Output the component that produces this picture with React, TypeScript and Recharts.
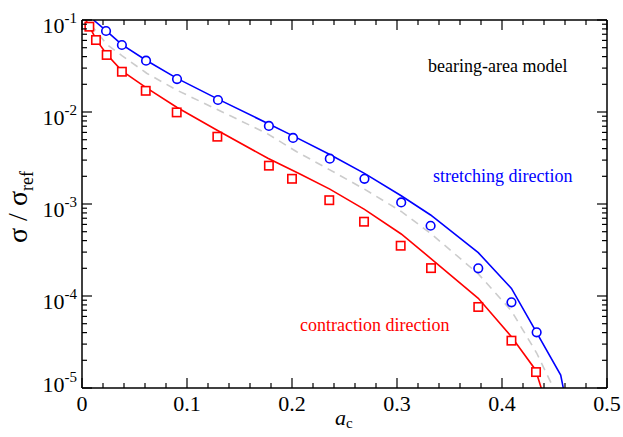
import React from 'react';
import { ComposedChart, Line, Scatter, XAxis, YAxis } from 'recharts';

const SERIF = "'Liberation Serif', 'Times New Roman', Times, 'DejaVu Serif', serif";
const BLUE = '#0000ff';
const RED = '#ff0000';
const GRAY = '#cccccc';

// symbols (simulation data)
const circleX = [0.0229, 0.038, 0.061, 0.0905, 0.1295, 0.178, 0.201, 0.236, 0.269, 0.304, 0.332, 0.3774, 0.409, 0.433];
const circleY = [0.0759, 0.0535, 0.0361, 0.0228, 0.0135, 0.00705, 0.00522, 0.00311, 0.00188, 0.00104, 0.00058, 0.0002, 8.54e-5, 4.03e-5];

const squareX = [0.007, 0.0133, 0.0235, 0.038, 0.0607, 0.0902, 0.1289, 0.178, 0.2, 0.2355, 0.2686, 0.3035, 0.3324, 0.3774, 0.409, 0.4324];
const squareY = [0.0846, 0.0606, 0.0417, 0.0274, 0.017, 0.0099, 0.00539, 0.00261, 0.00188, 0.0011, 0.000642, 0.000352, 0.000201, 7.6e-5, 3.27e-5, 1.49e-5];

// model curves
const blueLineX = [0.011, 0.0229, 0.038, 0.061, 0.0905, 0.1295, 0.178, 0.201, 0.236, 0.269, 0.304, 0.332, 0.3774, 0.409, 0.433, 0.4559, 0.462];
const blueLineY = [0.1, 0.0765, 0.054, 0.0365, 0.0232, 0.0138, 0.0074, 0.0055, 0.00345, 0.00215, 0.00123, 0.00076, 0.000296, 0.000121, 4.0e-5, 1.38e-5, 6.2e-6];

const redLineX = [0.0035, 0.007, 0.0135, 0.0235, 0.038, 0.0607, 0.0902, 0.1283, 0.177, 0.2076, 0.236, 0.269, 0.304, 0.332, 0.3774, 0.409, 0.432, 0.44];
const redLineY = [0.1, 0.086, 0.0612, 0.0425, 0.028, 0.0185, 0.01125, 0.00637, 0.00314, 0.00212, 0.00145, 0.000875, 0.000472, 0.000257, 9.44e-5, 3.61e-5, 1.57e-5, 8e-6];

const grayLineX = [0.008, 0.0235, 0.038, 0.0616, 0.0902, 0.1283, 0.176, 0.2045, 0.236, 0.269, 0.304, 0.332, 0.3774, 0.409, 0.433, 0.452];
const grayLineY = [0.09, 0.0545, 0.041, 0.0264, 0.0173, 0.0107, 0.00586, 0.0037, 0.00235, 0.00145, 0.00083, 0.00048, 0.000174, 6.9e-5, 2.4e-5, 8.5e-6];

// axes
const xTicks = [0, 0.02, 0.04, 0.06, 0.08, 0.1, 0.12, 0.14, 0.16, 0.18, 0.2, 0.22, 0.24, 0.26, 0.28, 0.3,
  0.32, 0.34, 0.36, 0.38, 0.4, 0.42, 0.44, 0.46, 0.48, 0.5];
const yDecades = [-5, -4, -3, -2];
const yTicks = yDecades.flatMap((e) => [1, 2, 3, 4, 5, 6, 7, 8, 9].map((k) => k * Math.pow(10, e))).concat([0.1]);

const zip = (xs: number[], ys: number[]) => xs.map((x, i) => ({ x, y: ys[i] }));
const circles = zip(circleX, circleY);
const squares = zip(squareX, squareY);
const blueLine = zip(blueLineX, blueLineY);
const redLine = zip(redLineX, redLineY);
const grayLine = zip(grayLineX, grayLineY);

const isMajorX = (v: number) => Math.abs(v * 10 - Math.round(v * 10)) < 1e-6;
const decade = (v: number) => Math.log10(v);
const isMajorY = (v: number) => Math.abs(decade(v) - Math.round(decade(v))) < 1e-6;

const serifStyle = { fontFamily: SERIF };

const BottomTick = (props: any) => {
  const { x, y, payload } = props;
  const major = isMajorX(payload.value);
  return (
    <g>
      <line x1={x} y1={y} x2={x} y2={y - (major ? 10 : 5)} stroke="#000" strokeWidth={1.2} />
      {major && (
        <text x={x} y={y + 23} textAnchor="middle" fontSize={22} style={serifStyle} fill="#000">
          {String(payload.value)}
        </text>
      )}
    </g>
  );
};

const TopTick = (props: any) => {
  const { x, y, payload } = props;
  const major = isMajorX(payload.value);
  return <line x1={x} y1={y} x2={x} y2={y + (major ? 10 : 5)} stroke="#000" strokeWidth={1.2} />;
};

const LeftTick = (props: any) => {
  const { x, y, payload } = props;
  const major = isMajorY(payload.value);
  const e = Math.round(decade(payload.value));
  return (
    <g>
      <line x1={x} y1={y} x2={x + (major ? 10 : 5)} y2={y} stroke="#000" strokeWidth={1.2} />
      {major && (
        <text x={x - 5} y={y + (e === -5 ? 4 : 13)} textAnchor="end" fontSize={22} style={serifStyle} fill="#000">
          10<tspan fontSize={15} dy={-10}>{String(e)}</tspan>
        </text>
      )}
    </g>
  );
};

const RightTick = (props: any) => {
  const { x, y, payload } = props;
  const major = isMajorY(payload.value);
  return <line x1={x} y1={y} x2={x - (major ? 10 : 5)} y2={y} stroke="#000" strokeWidth={1.2} />;
};

const CircleMark = (props: any) => (
  <circle cx={props.cx} cy={props.cy} r={4.3} fill="#fff" stroke={BLUE} strokeWidth={1.6} />
);

const SquareMark = (props: any) => (
  <rect x={props.cx - 4.2} y={props.cy - 4.2} width={8.4} height={8.4} fill="#fff" stroke={RED} strokeWidth={1.6} />
);

const frame = { stroke: '#000', strokeWidth: 1.5 };

export default function App() {
  return (
    <div style={{ position: 'absolute', left: 0, top: 0, width: 623, height: 437, background: '#fff', fontFamily: SERIF }}>
      <ComposedChart width={623} height={437} margin={{ top: 19, right: 15, bottom: 0, left: 0 }}>
        <XAxis
          type="number"
          dataKey="x"
          domain={[0, 0.5]}
          ticks={xTicks}
          interval={0}
          height={49}
          tickSize={0}
          tickMargin={0}
          tickLine={false}
          axisLine={frame}
          tick={BottomTick}
          allowDataOverflow
        />
        <XAxis
          xAxisId="top"
          orientation="top"
          type="number"
          dataKey="x"
          domain={[0, 0.5]}
          ticks={xTicks}
          interval={0}
          height={1}
          tickSize={0}
          tickMargin={0}
          tickLine={false}
          axisLine={frame}
          tick={TopTick}
          allowDataOverflow
        />
        <YAxis
          type="number"
          dataKey="y"
          scale="log"
          domain={[1e-5, 0.1]}
          ticks={yTicks}
          interval={0}
          width={82}
          tickSize={0}
          tickMargin={0}
          tickLine={false}
          axisLine={frame}
          tick={LeftTick}
          allowDataOverflow
        />
        <YAxis
          yAxisId="right"
          orientation="right"
          type="number"
          dataKey="y"
          scale="log"
          domain={[1e-5, 0.1]}
          ticks={yTicks}
          interval={0}
          width={1}
          tickSize={0}
          tickMargin={0}
          tickLine={false}
          axisLine={frame}
          tick={RightTick}
          allowDataOverflow
        />
        <Line data={grayLine} dataKey="y" type="linear" stroke={GRAY} strokeWidth={1.6} strokeDasharray="8 6" dot={false} isAnimationActive={false} />
        <Line data={redLine} dataKey="y" type="linear" stroke={RED} strokeWidth={1.6} dot={false} isAnimationActive={false} />
        <Line data={blueLine} dataKey="y" type="linear" stroke={BLUE} strokeWidth={1.6} dot={false} isAnimationActive={false} />
        <Scatter data={squares} dataKey="y" shape={SquareMark} isAnimationActive={false} />
        <Scatter data={circles} dataKey="y" shape={CircleMark} isAnimationActive={false} />
      </ComposedChart>
      <svg width={623} height={437} style={{ position: 'absolute', left: 0, top: 0, pointerEvents: 'none', fontFamily: SERIF }}>
        <text x={428} y={72} fontSize={18} fill="#000">bearing-area model</text>
        <text x={433} y={182} fontSize={18} fill={BLUE}>stretching direction</text>
        <text x={300} y={331} fontSize={18} fill={RED}>contraction direction</text>
        <text transform="translate(27,207) rotate(-90)" textAnchor="middle" fontSize={28} fill="#000">
          σ / σ<tspan fontSize={18} dy={6}>ref</tspan>
        </text>
        <text x={335} y={425} fontSize={22} fontStyle="italic" fill="#000">
          a<tspan fontSize={15} fontStyle="normal" dy={3}>c</tspan>
        </text>
      </svg>
    </div>
  );
}
